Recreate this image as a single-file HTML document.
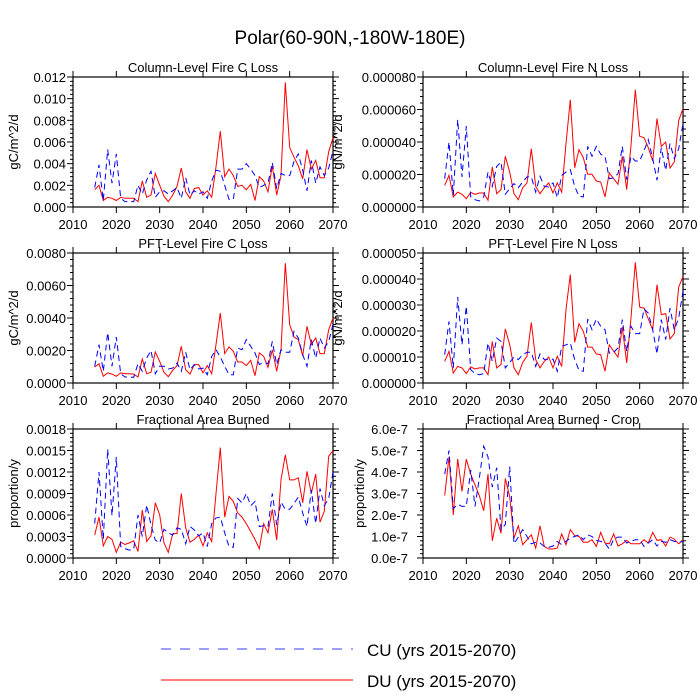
<!DOCTYPE html>
<html><head><meta charset="utf-8"><style>
html,body{margin:0;padding:0;background:#fff;}
svg{display:block;font-family:"Liberation Sans",sans-serif;}
</style></head><body>
<svg id="chart" width="700" height="700" viewBox="0 0 700 700">
<text x="350" y="44" font-size="19" text-anchor="middle">Polar(60-90N,-180W-180E)</text>
<g>
<line x1="161" y1="649" x2="353" y2="649" stroke="#3b3bff" stroke-width="1" stroke-dasharray="10,9"/>
<text x="367" y="656" font-size="17">CU (yrs 2015-2070)</text>
<line x1="161" y1="680" x2="353" y2="680" stroke="#ff0000" stroke-width="1"/>
<text x="367" y="687" font-size="17">DU (yrs 2015-2070)</text>
</g>
</svg>
<script>
const years = [];
for (let y = 2015; y <= 2070; y++) years.push(y);
const xTicks = [2010, 2020, 2030, 2040, 2050, 2060, 2070];

const colCLossDU = [0.0016,0.0020,0.0006,0.0009,0.0008,0.0006,0.0009,0.0008,0.0008,0.0008,0.0005,0.0024,0.0009,0.0011,0.0031,0.0020,0.0010,0.0005,0.0011,0.0019,0.0036,0.0014,0.0008,0.0017,0.0018,0.0011,0.0015,0.0009,0.0037,0.0070,0.0028,0.0035,0.0029,0.0019,0.0020,0.0016,0.0021,0.0006,0.0028,0.0024,0.0014,0.0038,0.0011,0.0029,0.0115,0.0055,0.0046,0.0038,0.0026,0.0053,0.0035,0.0043,0.0027,0.0027,0.0051,0.0064];
const colCLossCU = [0.0018,0.0039,0.0006,0.0053,0.0022,0.0049,0.0008,0.0005,0.0005,0.0005,0.0020,0.0012,0.0025,0.0033,0.0009,0.0014,0.0015,0.0012,0.0015,0.0018,0.0008,0.0027,0.0011,0.0015,0.0012,0.0014,0.0008,0.0024,0.0034,0.0033,0.0020,0.0007,0.0007,0.0035,0.0035,0.0040,0.0035,0.0029,0.0018,0.0020,0.0022,0.0041,0.0017,0.0031,0.0029,0.0029,0.0042,0.0049,0.0034,0.0015,0.0043,0.0022,0.0037,0.0029,0.0036,0.0052];
const colNLossDU = [1.33,1.95,0.62,0.92,0.78,0.51,0.90,0.78,0.86,0.86,0.41,2.46,0.82,1.07,3.12,2.15,0.82,0.45,1.19,1.48,3.59,1.27,0.82,1.19,1.48,0.86,1.48,0.92,3.9,6.6,2.42,3.53,3.04,2.01,2.01,1.6,1.54,0.62,2.09,1.74,1.4,3.12,1.07,3.79,7.22,4.35,4.27,3.65,2.83,5.44,3.73,4.0,2.4,2.77,5.33,6.05].map(v=>v*1e-5);
const colNLossCU = [1.74,4.0,0.72,5.38,1.85,4.97,0.62,0.45,0.37,0.62,2.15,1.27,2.5,2.77,0.78,1.13,1.44,1.19,1.54,1.85,1.85,0.92,1.89,1.27,1.23,1.48,0.57,1.95,2.15,2.3,1.27,0.66,0.62,3.73,3.12,3.73,3.24,3.12,1.74,1.8,2.05,3.73,1.68,3.12,2.83,2.83,3.45,4.15,2.97,1.64,3.65,2.26,3.9,2.97,3.59,5.13].map(v=>v*1e-5);
const pftCLossDU = [0.98,1.19,0.41,0.62,0.55,0.41,0.62,0.57,0.57,0.55,0.37,1.48,0.57,0.66,1.91,1.33,0.66,0.39,0.78,1.07,2.26,0.82,0.55,1.13,1.13,0.62,1.07,0.57,2.36,4.31,1.81,2.22,1.95,1.29,1.29,1.07,1.4,0.45,1.85,1.64,0.96,2.05,0.72,2.05,7.38,3.59,2.83,2.67,1.68,3.49,2.36,2.77,1.81,1.81,3.28,4.0].map(v=>v*1e-3);
const pftCLossCU = [1.03,2.36,0.72,3.1,1.03,2.83,0.57,0.37,0.37,0.35,1.19,0.72,1.54,2.0,0.57,1.03,1.03,0.86,0.92,1.23,0.72,1.89,0.82,1.13,0.86,0.92,0.51,1.64,2.05,1.6,1.03,0.51,0.51,2.15,2.05,2.67,2.26,1.85,1.13,1.27,1.19,2.56,1.13,2.05,1.89,1.89,3.18,2.77,1.74,1.03,2.67,1.54,2.77,2.15,2.56,3.59].map(v=>v*1e-3);
const pftNLossDU = [0.83,1.22,0.38,0.64,0.58,0.36,0.62,0.54,0.58,0.58,0.32,1.6,0.58,0.71,2.08,1.47,0.58,0.32,0.79,1.03,2.33,0.9,0.58,0.83,1.0,0.58,1.03,0.64,2.82,4.17,1.56,2.28,1.99,1.38,1.38,1.12,1.09,0.45,1.47,1.22,1.0,2.15,0.77,2.5,4.64,2.92,2.88,2.46,2.05,3.78,2.63,2.67,1.69,1.9,3.69,4.1].map(v=>v*1e-5);
const pftNLossCU = [1.09,2.37,0.58,3.31,1.47,2.95,0.51,0.36,0.32,0.36,1.54,0.83,1.73,1.6,0.58,0.79,1.0,0.9,1.09,1.18,1.18,0.64,1.12,0.9,0.9,0.92,0.45,1.41,1.47,1.54,0.9,0.49,0.45,2.46,2.05,2.46,2.18,2.05,1.15,1.18,1.35,2.44,1.22,2.18,1.9,1.9,2.85,2.69,2.05,1.12,2.44,1.67,2.88,2.05,2.5,3.53].map(v=>v*1e-5);
const fabDU = [3.2,5.7,1.7,3.0,2.6,0.8,2.2,1.9,2.1,2.4,0.9,6.7,2.3,3.1,7.7,6.0,2.1,0.8,3.4,3.4,9.0,4.2,2.2,2.6,3.2,1.7,3.5,2.3,9.0,15.4,5.7,8.6,7.9,6.3,5.7,4.8,3.7,2.6,1.3,4.8,3.5,6.8,2.5,10.9,14.4,10.9,10.9,11.2,7.7,12.1,9.0,11.7,5.0,6.5,14.2,15.0].map(v=>v*1e-4);
const fabCU = [4.8,12.0,2.6,15.2,5.9,14.1,1.6,1.3,1.1,1.2,6.0,3.0,7.4,4.6,2.5,2.1,4.0,3.5,3.2,4.2,4.0,2.0,4.4,3.9,3.1,3.5,1.6,4.8,5.6,5.7,3.5,1.6,1.5,8.3,7.7,9.0,7.3,7.9,4.4,4.5,4.4,9.0,4.6,7.8,6.8,6.8,7.6,8.5,6.3,4.4,9.5,4.8,9.7,7.3,8.3,12.0].map(v=>v*1e-4);
const cropDU = [2.9,4.7,2.0,4.6,3.1,4.6,3.9,3.4,2.9,2.2,3.9,0.8,1.85,1.15,3.7,2.85,0.93,1.5,0.62,0.85,1.08,0.46,1.5,0.54,0.42,0.42,0.46,1.12,0.62,1.32,1.04,1.0,0.73,0.73,0.85,0.54,1.19,0.7,0.66,1.12,0.56,0.66,0.82,0.66,0.66,0.66,0.85,0.7,1.19,0.82,0.85,0.56,0.97,0.88,0.66,0.85].map(v=>v*1e-7);
const cropCU = [3.9,5.0,2.3,2.5,2.4,2.4,4.1,2.4,3.7,5.2,4.7,3.3,4.2,1.32,1.56,4.25,0.66,0.97,1.32,1.0,0.66,0.73,0.7,0.54,0.5,0.56,0.77,0.62,0.77,0.93,1.0,1.08,0.85,1.08,1.0,0.82,0.77,0.7,0.42,0.88,0.97,0.97,0.7,0.77,0.85,0.85,0.54,0.7,0.85,0.56,0.77,0.73,0.85,0.77,0.73,0.77].map(v=>v*1e-7);

const tickColC = ["0.000","0.002","0.004","0.006","0.008","0.010","0.012"];
const tickColN = ["0.000000","0.000020","0.000040","0.000060","0.000080"];
const tickPftC = ["0.0000","0.0020","0.0040","0.0060","0.0080"];
const tickPftN = ["0.000000","0.000010","0.000020","0.000030","0.000040","0.000050"];
const tickFab = ["0.0000","0.0003","0.0006","0.0009","0.0012","0.0015","0.0018"];
const tickCrop = ["0.0e-7","1.0e-7","2.0e-7","3.0e-7","4.0e-7","5.0e-7","6.0e-7"];

const NS = "http://www.w3.org/2000/svg";
const svg = document.getElementById("chart");
function mk(tag, attrs, parent) {
  const e = document.createElementNS(NS, tag);
  for (const k in attrs) e.setAttribute(k, attrs[k]);
  parent.appendChild(e);
  return e;
}

const panels = [
  {key:"col-c", title:"Column-Level Fire C Loss", x0:73, x1:333, y0:77, y1:207, max:0.012, ticks:tickColC, ytitle:"gC/m^2/d", tx:13, lo:7, du:colCLossDU, cu:colCLossCU},
  {key:"col-n", title:"Column-Level Fire N Loss", x0:423, x1:683, y0:77, y1:207, max:0.00008, ticks:tickColN, ytitle:"gN/m^2/d", tx:337, lo:7, du:colNLossDU, cu:colNLossCU},
  {key:"pft-c", title:"PFT-Level Fire C Loss", x0:73, x1:333, y0:253, y1:383, max:0.008, ticks:tickPftC, ytitle:"gC/m^2/d", tx:13, lo:7, du:pftCLossDU, cu:pftCLossCU},
  {key:"pft-n", title:"PFT-Level Fire N Loss", x0:423, x1:683, y0:253, y1:383, max:0.00005, ticks:tickPftN, ytitle:"gN/m^2/d", tx:337, lo:7, du:pftNLossDU, cu:pftNLossCU},
  {key:"fab", title:"Fractional Area Burned", x0:73, x1:333, y0:429, y1:558, max:0.0018, ticks:tickFab, ytitle:"proportion/y", tx:13, lo:7, du:fabDU, cu:fabCU},
  {key:"crop", title:"Fractional Area Burned - Crop", x0:423, x1:683, y0:429, y1:558, max:6e-7, ticks:tickCrop, ytitle:"proportion/y", tx:359, lo:15, du:cropDU, cu:cropCU}
];

panels.forEach(p => {
  const g = mk("g", {}, svg);
  
  
  const xs = yr => p.x0 + (yr - 2010) / 60 * (p.x1 - p.x0);
  const ys = v => p.y1 - v / p.max * (p.y1 - p.y0);
  const t = mk("text", {x:(p.x0+p.x1)/2, y:p.y0-5, "font-size":"13", "text-anchor":"middle"}, g);
  t.textContent = p.title;
  
  
  const nT = p.ticks.length - 1;
  const ax = mk("g", {stroke:"#000", "stroke-width":"1"}, g);
  
  
  for (let i = 0; i <= nT; i++) {
    const yy = p.y1 - i * (p.y1 - p.y0) / nT;
    mk("line", {x1:p.x0-6, y1:yy, x2:p.x0, y2:yy}, ax);
    mk("line", {x1:p.x1, y1:yy, x2:p.x1+6, y2:yy}, ax);
    const lb = mk("text", {x:p.x0-p.lo, y:yy+5, "font-size":"13", "text-anchor":"end", stroke:"none"}, g);
    lb.textContent = p.ticks[i];
    
    
    if (i < nT) for (let m = 1; m < 5; m++) {
      const ym = yy - m * (p.y1 - p.y0) / nT / 5;
      mk("line", {x1:p.x0-3, y1:ym, x2:p.x0, y2:ym}, ax);
      mk("line", {x1:p.x1, y1:ym, x2:p.x1+3, y2:ym}, ax);
    }
  }
  xTicks.forEach(tk => {
    const xx = xs(tk);
    mk("line", {x1:xx, y1:p.y1, x2:xx, y2:p.y1+6}, ax);
    mk("line", {x1:xx, y1:p.y0-6, x2:xx, y2:p.y0}, ax);
    const lb = mk("text", {x:xx, y:p.y1+22, "font-size":"13", "text-anchor":"middle"}, g);
    lb.textContent = String(tk);
    
    
  });
  const fr = mk("rect", {x:p.x0, y:p.y0, width:p.x1-p.x0, height:p.y1-p.y0, fill:"none", stroke:"#000", "stroke-width":"1.2"}, g);
  
  
  const yt = mk("text", {x:p.tx, y:(p.y0+p.y1)/2, "font-size":"13", "text-anchor":"middle", transform:`rotate(-90 ${p.tx} ${(p.y0+p.y1)/2})`, dy:"5"}, g);
  yt.textContent = p.ytitle;
  
  
  const pts = arr => arr.map((v, i) => xs(years[i]).toFixed(1) + "," + ys(v).toFixed(1)).join(" ");
  const lr = mk("polyline", {points:pts(p.du), fill:"none", stroke:"#ff0000", "stroke-width":"1"}, g);
  
  
  const lc = mk("polyline", {points:pts(p.cu), fill:"none", stroke:"#0000ff", "stroke-width":"1", "stroke-dasharray":"6,4"}, g);
  
  
});
</script>
</body></html>
